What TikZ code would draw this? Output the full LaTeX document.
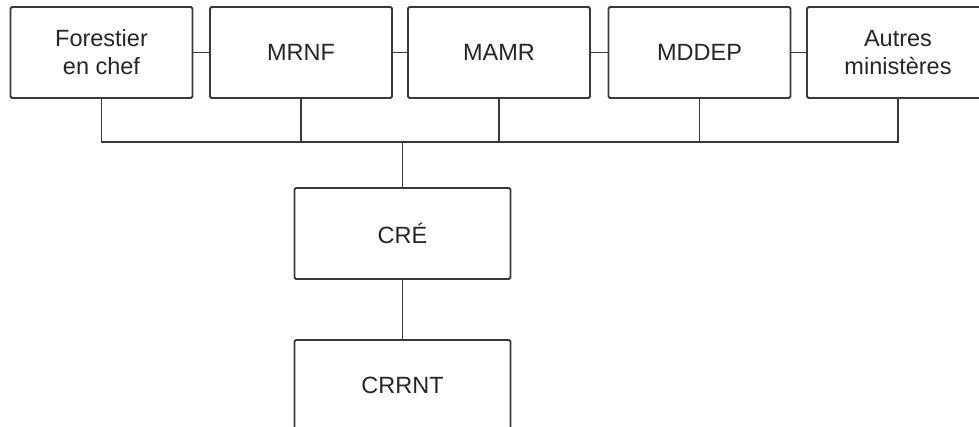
\documentclass[tikz,border=0pt]{standalone}
\usepackage{fontspec}
\setmainfont{Liberation Sans}
\begin{document}
\begin{tikzpicture}[x=1pt,y=-1pt,
  box/.style={draw=linegray,line width=1.8pt,rounded corners=1.5pt,fill=white,
    minimum width=182pt,minimum height=91pt,inner sep=0pt,align=center,
    font=\fontsize{23.5pt}{28pt}\selectfont,text=black!85},
  conn/.style={draw=linegray,line width=1.8pt}]
\definecolor{linegray}{RGB}{58,58,58}
\useasboundingbox (0,0) rectangle (979,427);
\clip (0,0) rectangle (979,427);
\node[box] (b1) at (101.5,52.5) {Forestier\\en chef};
\node[box] (b2) at (301,52.5) {MRNF};
\node[box] (b3) at (499,52.5) {MAMR};
\node[box] (b4) at (699.5,52.5) {MDDEP};
\node[box] (b5) at (898,52.5) {Autres\\ministères};
\node[box,minimum width=216pt] (cre) at (402.5,233.5) {CRÉ};
\node[box,minimum width=216pt] (crrnt) at (402.5,385.5) {CRRNT};
\coordinate (bus) at (402.5,142);
\draw[conn] (b1.east) -- (b2.west);
\draw[conn] (b2.east) -- (b3.west);
\draw[conn] (b3.east) -- (b4.west);
\draw[conn] (b4.east) -- (b5.west);
\draw[conn] (b1.south) |- (bus);
\draw[conn] (b5.south) |- (bus);
\draw[conn] (b2.south) |- (bus);
\draw[conn] (b3.south) |- (bus);
\draw[conn] (b4.south) |- (bus);
\draw[conn] (bus) -- (cre.north);
\draw[conn] (cre.south) -- (crrnt.north);
\end{tikzpicture}
\end{document}
